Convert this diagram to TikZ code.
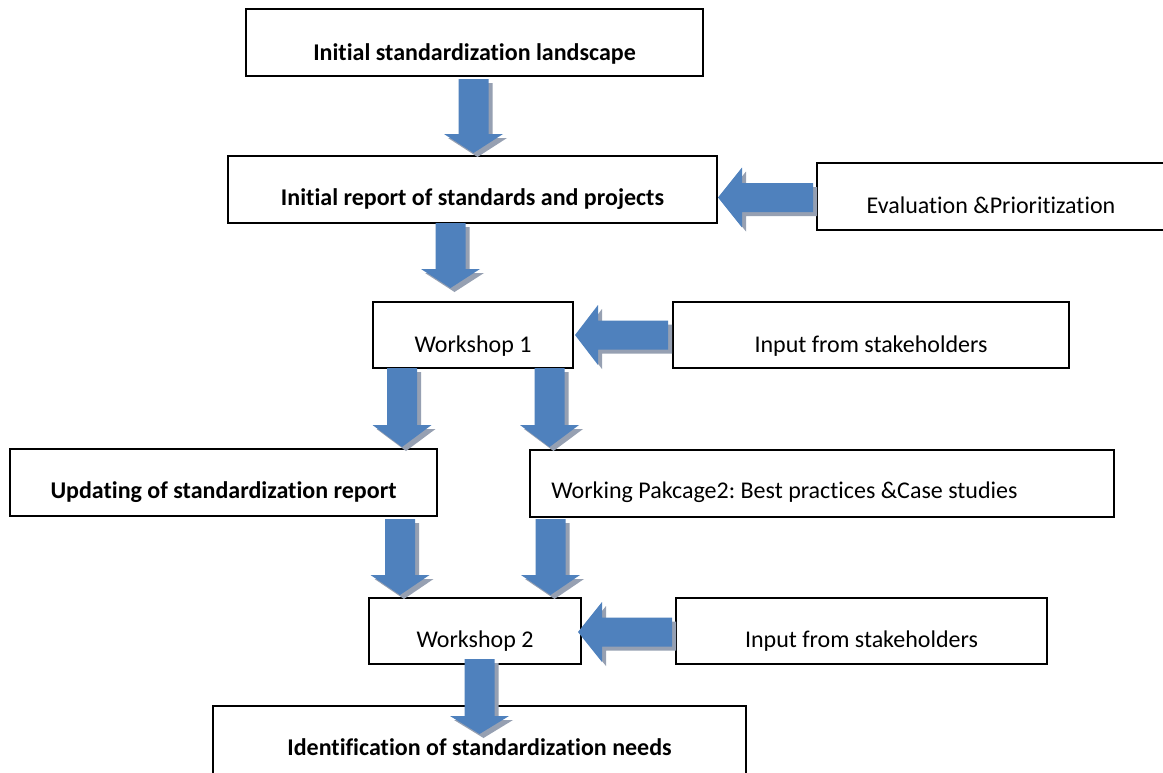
\documentclass[tikz,border=0pt]{standalone}
\usepackage{fontspec}
\setmainfont{Carlito}[Ligatures={NoCommon}]
\frenchspacing
\usetikzlibrary{fit}
\definecolor{arrowblue}{HTML}{4F81BD}
\definecolor{shadowgray}{RGB}{150,160,178}
\newcommand\darr[4]{% cx, top, headstart, tip
  \fill[shadowgray,shift={(4,4)}] (#1-15,#2) -- (#1+15,#2) -- (#1+15,#3) -- (#1+29.5,#3) -- (#1,#4) -- (#1-29.5,#3) -- (#1-15,#3) -- cycle;
  \fill[arrowblue] (#1-15,#2) -- (#1+15,#2) -- (#1+15,#3) -- (#1+29.5,#3) -- (#1,#4) -- (#1-29.5,#3) -- (#1-15,#3) -- cycle;
}
\newcommand\larr[4]{% cy, tip x, head back x, shaft end x
  \fill[shadowgray,shift={(4,4)}] (#2,#1) -- (#3,#1-30) -- (#3,#1-14.5) -- (#4,#1-14.5) -- (#4,#1+14.5) -- (#3,#1+14.5) -- (#3,#1+30) -- cycle;
  \fill[arrowblue] (#2,#1) -- (#3,#1-30) -- (#3,#1-14.5) -- (#4,#1-14.5) -- (#4,#1+14.5) -- (#3,#1+14.5) -- (#3,#1+30) -- cycle;
}
\begin{document}
\begin{tikzpicture}[x=0.75pt,y=-0.75pt,
  box/.style={draw=black, line width=1.4pt, fill=white, inner sep=0pt},
  txt/.style={anchor=base, inner sep=0pt, font=\fontsize{18}{22}\selectfont},
  btxt/.style={anchor=base, inner sep=0pt, font=\fontsize{18}{22}\selectfont\bfseries}]
\useasboundingbox (0,0) rectangle (1163,772);
\clip (0,0) rectangle (1163,772);
\fill[white] (0,0) rectangle (1163,772);
% boxes
\node[box, fit={(246,9) (703,76)}] (b1) {};
\node[box, fit={(228,156) (717,223)}] (b2) {};
\node[box, fit={(817,163) (1165,230)}] (ev) {};
\node[box, fit={(373,302) (573,368)}] (w1) {};
\node[box, fit={(673,302) (1069,368)}] (in1) {};
\node[box, fit={(10,449) (437,516)}] (up) {};
\node[box, fit={(530,450) (1114,517)}] (wp) {};
\node[box, fit={(369,598) (581,664)}] (w2) {};
\node[box, fit={(676,598) (1047,664)}] (in2) {};
\node[box, fit={(213,706) (746,800)}] (id) {};
% texts
\node[btxt] (t1) at (474.5,60) {Initial standardization landscape};
\node[btxt] (t2) at (472.5,205) {Initial report of standards and projects};
\node[txt] (tev) at (991,213) {Evaluation \&Prioritization};
\node[txt] (tw1) at (473,352) {Workshop 1};
\node[txt] (tin1) at (871,352) {Input from stakeholders};
\node[btxt] (tup) at (223.5,498) {Updating of standardization report};
\node[txt, anchor=base west] (twp) at (551,498) {Working Pakcage2: Best practices \&Case studies};
\node[txt] (tw2) at (475,647) {Workshop 2};
\node[txt] (tin2) at (861.5,647) {Input from stakeholders};
\node[btxt] (tid) at (479.5,755) {Identification of standardization needs};
% block arrows
\darr{473.5}{79}{134}{153}
\darr{450.5}{223}{269}{288}
\darr{402}{368}{425}{447}
\darr{549.5}{368}{425}{447}
\darr{400}{519}{575}{595}
\darr{550.5}{519}{575}{595}
\darr{479.5}{659}{716}{734}
\larr{197.5}{718}{742}{813}
\larr{335}{575}{598}{668}
\larr{632}{578}{602}{672}
\end{tikzpicture}
\end{document}
